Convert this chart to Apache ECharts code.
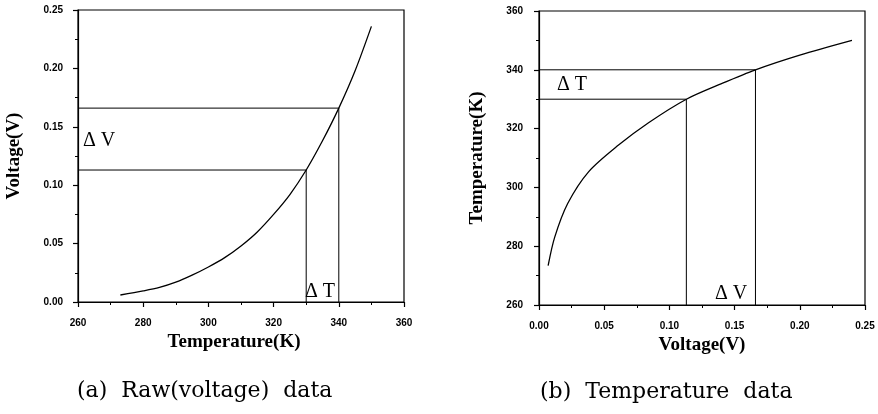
<!DOCTYPE html>
<html>
<head>
<meta charset="utf-8">
<script src="https://cdn.jsdelivr.net/npm/echarts@6/dist/echarts.min.js"></script>
<style>
html,body{margin:0;padding:0;background:#fff;}
#chart{width:878px;height:414px;}
</style>
</head>
<body>
<div id="chart"></div>
<script>
// (a) Raw (voltage) data: temperature (K) vs voltage (V)
const rawTemp = [273, 280, 285, 290, 295, 300, 305, 310, 315, 320, 325, 330, 335, 340, 345, 350];
const rawVolt = [0.006, 0.0095, 0.0125, 0.017, 0.023, 0.030, 0.038, 0.048, 0.060, 0.075, 0.092, 0.113, 0.138, 0.166, 0.198, 0.236];
// (b) Temperature data: voltage (V) vs temperature (K)
const tVolt = [0.007, 0.012, 0.022, 0.038, 0.061, 0.084, 0.113, 0.14, 0.166, 0.20, 0.24];
const tTemp = [273.4, 283, 294.5, 305.3, 314.4, 322, 330, 335.3, 340, 345, 350];
// guide points
const guideT = [330, 340];
const guideV = [0.113, 0.166];
// axes [min, max, interval]
const leftXTicks = [260, 360, 20];
const leftYTicks = [0, 0.25, 0.05];
const rightXTicks = [0, 0.25, 0.05];
const rightYTicks = [260, 360, 20];

const chart = echarts.init(document.getElementById('chart'), null, {renderer: 'canvas'});

const labelFont = {fontFamily: 'Liberation Sans, Arial, sans-serif', fontSize: 10, fontWeight: 'bold', color: '#000'};
const nameFont = {fontFamily: 'Liberation Serif, Times New Roman, serif', fontSize: 19, fontWeight: 'bold', color: '#000'};

function axisCommon(range, decimals, margin) {
  return {
    type: 'value',
    min: range[0], max: range[1], interval: range[2],
    axisLine: {show: true, onZero: false, lineStyle: {color: '#000', width: 1.2}},
    axisTick: {show: true, inside: false, length: 5, lineStyle: {color: '#000', width: 1.2}},
    minorTick: {show: true, splitNumber: 2, length: 3, lineStyle: {color: '#000', width: 1}},
    splitLine: {show: false},
    axisLabel: Object.assign({formatter: v => v.toFixed(decimals), margin: margin}, labelFont),
    nameTextStyle: Object.assign({}, nameFont),
    nameLocation: 'middle'
  };
}

const lineStyle = {color: '#000', width: 1.3};
const guideStyle = {color: '#000', width: 1};

function guide(xi, yi, x0, y0, px, py) {
  return {
    type: 'line', xAxisIndex: xi, yAxisIndex: yi, symbol: 'none', silent: true,
    lineStyle: guideStyle,
    data: [[x0, py], [px, py], [px, y0]]
  };
}

const leftX = Object.assign(axisCommon(leftXTicks, 0, 16), {gridIndex: 0, name: 'Temperature(K)', nameGap: 30});
leftX.nameTextStyle.padding = [0, 14, 0, 0];

const option = {
  animation: false,
  backgroundColor: '#fff',
  grid: [
    {left: 78, top: 10, width: 326, height: 292, show: true, borderColor: '#000', borderWidth: 1.2, backgroundColor: 'transparent'},
    {left: 539, top: 11, width: 326, height: 294, show: true, borderColor: '#000', borderWidth: 1.2, backgroundColor: 'transparent'}
  ],
  xAxis: [
    leftX,
    Object.assign(axisCommon(rightXTicks, 2, 16), {gridIndex: 1, name: 'Voltage(V)', nameGap: 30})
  ],
  yAxis: [
    Object.assign(axisCommon(leftYTicks, 2, 15), {gridIndex: 0, name: 'Voltage(V)', nameGap: 54, nameRotate: 90}),
    Object.assign(axisCommon(rightYTicks, 0, 16), {gridIndex: 1, name: 'Temperature(K)', nameGap: 52, nameRotate: 90})
  ],
  series: [
    {type: 'line', xAxisIndex: 0, yAxisIndex: 0, symbol: 'none', smooth: 0.3, lineStyle: lineStyle,
     data: rawTemp.map((t, i) => [t, rawVolt[i]])},
    guide(0, 0, leftXTicks[0], leftYTicks[0], guideT[0], guideV[0]),
    guide(0, 0, leftXTicks[0], leftYTicks[0], guideT[1], guideV[1]),
    {type: 'line', xAxisIndex: 1, yAxisIndex: 1, symbol: 'none', smooth: 0.3, lineStyle: lineStyle,
     data: tVolt.map((v, i) => [v, tTemp[i]])},
    guide(1, 1, rightXTicks[0], rightYTicks[0], guideV[0], guideT[0]),
    guide(1, 1, rightXTicks[0], rightYTicks[0], guideV[1], guideT[1])
  ],
  graphic: [
    {type: 'text', left: 83, top: 131, style: {text: 'Δ V', font: '20px "Liberation Serif", serif', fill: '#000'}},
    {type: 'text', left: 305, top: 282, style: {text: 'Δ T', font: '20px "Liberation Serif", serif', fill: '#000'}},
    {type: 'text', left: 557, top: 75, style: {text: 'Δ T', font: '20px "Liberation Serif", serif', fill: '#000'}},
    {type: 'text', left: 715, top: 284, style: {text: 'Δ V', font: '20px "Liberation Serif", serif', fill: '#000'}},
    {type: 'text', left: 77, top: 380, style: {text: '(a)  Raw(voltage)  data', font: '22px "DejaVu Serif", serif', fill: '#000'}},
    {type: 'text', left: 540, top: 381, style: {text: '(b)  Temperature  data', font: '22px "DejaVu Serif", serif', fill: '#000'}}
  ]
};
chart.setOption(option);
</script>
</body>
</html>
